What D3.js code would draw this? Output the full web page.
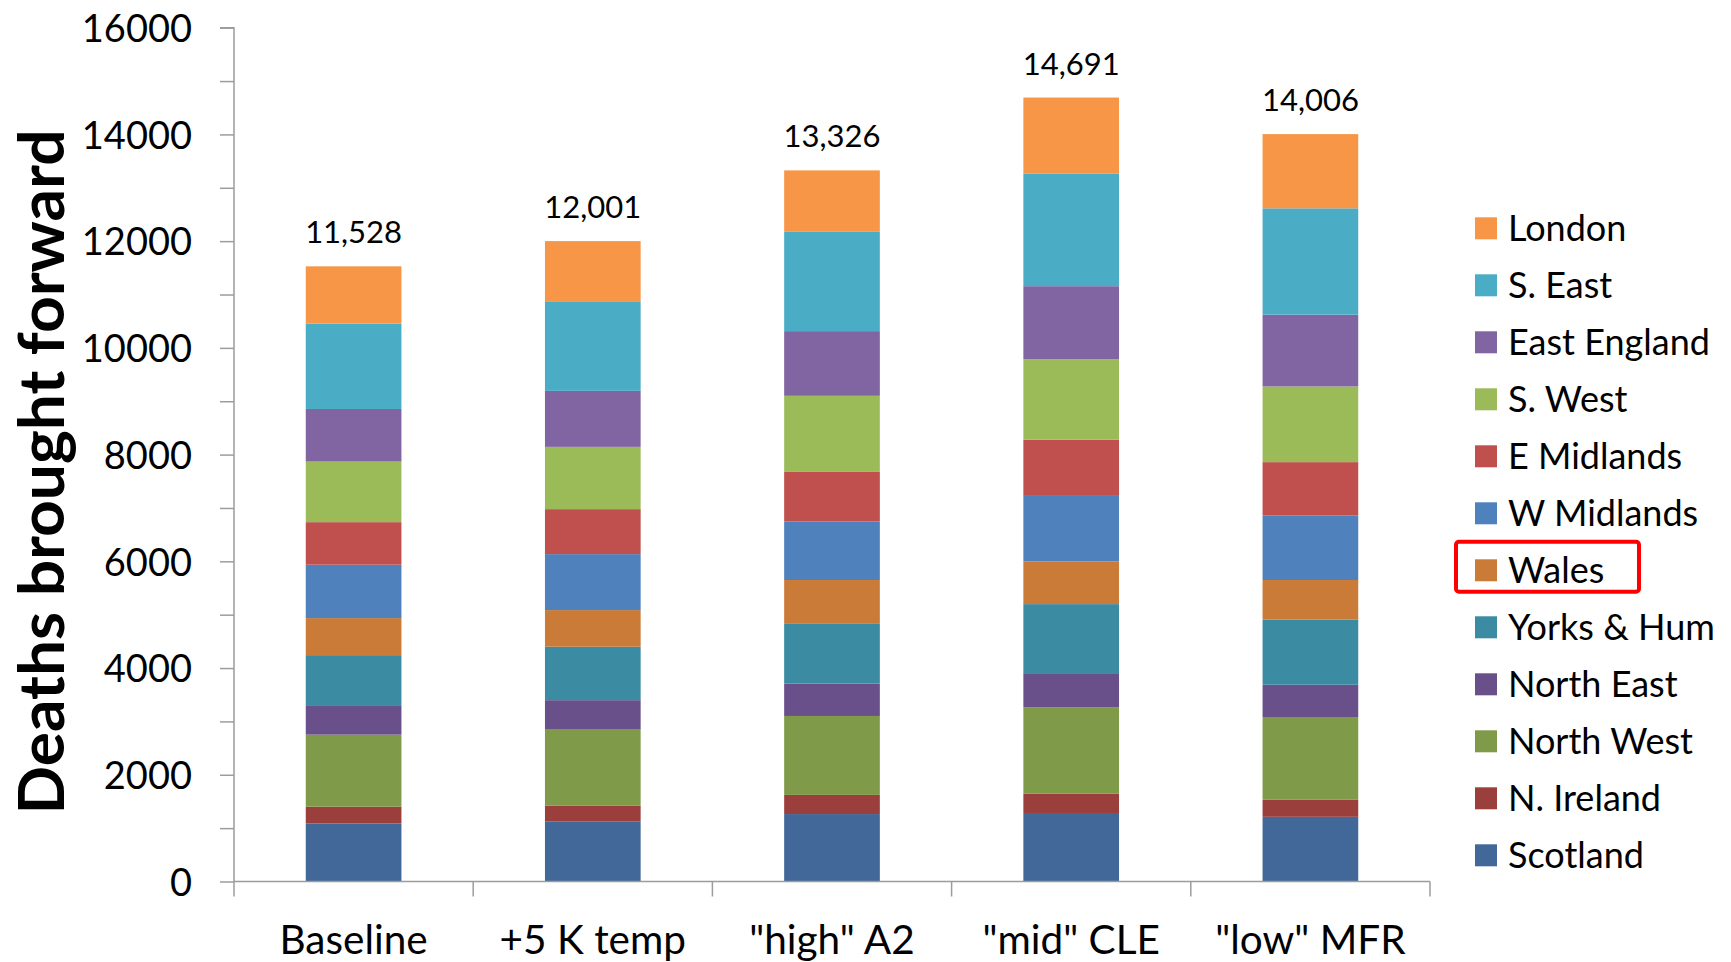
<!DOCTYPE html>
<html>
<head>
<meta charset="utf-8">
<script src="https://cdn.jsdelivr.net/npm/d3@7"></script>
<style>
  html, body { margin: 0; padding: 0; background: #fff; }
  svg { display: block; }
  text { font-family: Lato, "Open Sans", sans-serif; fill: #000; }
</style>
</head>
<body>
<svg id="chart" width="1731" height="962"></svg>
<script>
// Scenarios along the x axis
const scenarios = ["Baseline", "+5 K temp", "\"high\" A2", "\"mid\" CLE", "\"low\" MFR"];

// Regions, bottom of the stack first
const regions = ["Scotland", "N. Ireland", "North West", "North East", "Yorks & Hum",
  "Wales", "W Midlands", "E Midlands", "S. West", "East England", "S. East", "London"];

// Deaths brought forward per region, one value per scenario
const scotland    = [1088, 1128, 1264, 1284, 1212];
const nIreland    = [ 315,  291,  359,  360,  319];
const northWest   = [1349, 1427, 1479, 1623, 1551];
const northEast   = [ 552,  552,  607,  637,  606];
const yorksHum    = [ 938, 1002, 1130, 1294, 1222];
const wales       = [ 694,  686,  811,  801,  740];
const wMidlands   = [1001, 1049, 1099, 1243, 1212];
const eMidlands   = [ 797,  843,  935, 1038,  997];
const sWest       = [1135, 1167, 1418, 1510, 1418];
const eastEngland = [ 986, 1049, 1212, 1366, 1345];
const sEast       = [1601, 1679, 1860, 2106, 1993];
const london      = [1072, 1128, 1152, 1429, 1391];

const seriesValues = [scotland, nIreland, northWest, northEast, yorksHum, wales,
  wMidlands, eMidlands, sWest, eastEngland, sEast, london];

const regionColors = ["#416898", "#9B3F3D", "#7F9A48", "#69508A", "#3B8BA3", "#CB7B38",
  "#4F81BC", "#C0504D", "#9BBB59", "#8165A2", "#4BACC6", "#F79646"];

const yTickValues = [0, 2000, 4000, 6000, 8000, 10000, 12000, 14000, 16000];
const highlighted = "Wales";

// Rows for d3.stack
const rows = scenarios.map((s, i) => {
  const r = { scenario: s };
  regions.forEach((reg, j) => { r[reg] = seriesValues[j][i]; });
  return r;
});

const svg = d3.select("#chart");
const axisColor = "#9C9C9C";

const x = d3.scaleBand().domain(scenarios).range([234, 1430]).paddingInner(0.6).paddingOuter(0.3);
const y = d3.scaleLinear().domain([0, 16000]).range([881.5, 27.7]);

const stack = d3.stack().keys(regions);
const layers = stack(rows);
const color = d3.scaleOrdinal().domain(regions).range(regionColors);

// Stacked bars
svg.append("g").selectAll("g")
  .data(layers)
  .join("g")
  .attr("fill", d => color(d.key))
  .selectAll("rect")
  .data(d => d)
  .join("rect")
  .attr("x", d => x(d.data.scenario))
  .attr("width", x.bandwidth())
  .attr("y", d => y(d[1]))
  .attr("height", d => y(d[0]) - y(d[1]));

// Totals above bars
const fmt = d3.format(",");
svg.append("g").selectAll("text")
  .data(rows)
  .join("text")
  .attr("x", d => x(d.scenario) + x.bandwidth() / 2)
  .attr("y", d => y(d3.sum(regions, r => d[r])) - 23)
  .attr("text-anchor", "middle")
  .style("font-size", "31px")
  .text(d => fmt(d3.sum(regions, r => d[r])));

// Y axis: ticks every 1000, labels every 2000
const yAxis = d3.axisLeft(y)
  .tickValues(d3.range(0, 16001, 1000))
  .tickSize(14)
  .tickPadding(28)
  .tickFormat(v => yTickValues.includes(v) ? String(v) : "");
const gy = svg.append("g").attr("transform", "translate(234,0)").call(yAxis);
gy.select(".domain").attr("stroke", axisColor).attr("stroke-width", 1.5).attr("d", `M-14,${y(16000)}H0V${y(0)}`);
gy.selectAll(".tick line").attr("stroke", axisColor).attr("stroke-width", 1.5);
gy.selectAll(".tick text").style("font-size", "38px").style("font-family", "Lato, sans-serif").attr("fill", "#000").attr("dy", "0.36em");

// X axis with tick marks between categories
const gx = svg.append("g").attr("transform", `translate(0,${y(0)})`);
gx.append("path")
  .attr("d", `M234,0H1430`)
  .attr("stroke", axisColor).attr("stroke-width", 1.5).attr("fill", "none");
const boundaries = d3.range(scenarios.length + 1).map(i => 234 + i * (1196 / scenarios.length));
gx.selectAll("line.sep")
  .data(boundaries)
  .join("line")
  .attr("class", "sep")
  .attr("x1", d => d).attr("x2", d => d)
  .attr("y1", 0).attr("y2", 15)
  .attr("stroke", axisColor).attr("stroke-width", 1.5);
gx.selectAll("text")
  .data(scenarios)
  .join("text")
  .attr("x", d => x(d) + x.bandwidth() / 2)
  .attr("y", 954 - y(0))
  .attr("text-anchor", "middle")
  .style("font-size", "40.5px")
  .text(d => d);

// Y axis title
svg.append("text")
  .attr("transform", "translate(64,472) rotate(-90)")
  .attr("text-anchor", "middle")
  .style("font-size", "63px")
  .style("font-weight", "bold")
  .attr("textLength", 685)
  .attr("lengthAdjust", "spacingAndGlyphs")
  .text("Deaths brought forward");

// Legend, top entry is the top of the stack
const legendOrder = regions.slice().reverse();
const legend = svg.append("g").selectAll("g")
  .data(legendOrder)
  .join("g")
  .attr("transform", (d, i) => `translate(1475,${228.3 + i * 57})`);
legend.append("rect")
  .attr("x", 0).attr("y", -11)
  .attr("width", 22).attr("height", 22)
  .attr("fill", d => color(d));
legend.append("text")
  .attr("x", 33).attr("y", 12.5)
  .style("font-size", "36px")
  .text(d => d);

// Box around the highlighted legend entry
const hi = legendOrder.indexOf(highlighted);
svg.append("rect")
  .attr("x", 1456).attr("y", 228.3 + hi * 57 - 28.5)
  .attr("width", 183).attr("height", 50)
  .attr("rx", 3)
  .attr("fill", "none")
  .attr("stroke", "#FF0000")
  .attr("stroke-width", 4);
</script>
</body>
</html>
